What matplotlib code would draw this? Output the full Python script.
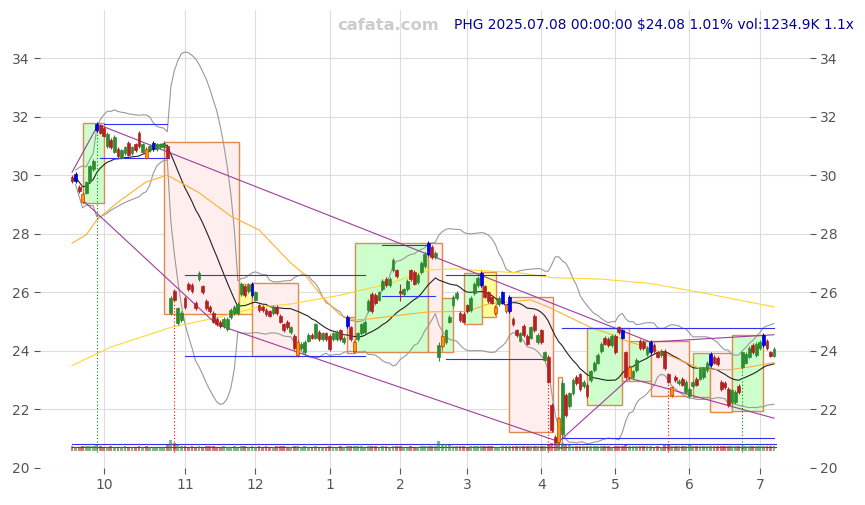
import numpy as np
import pandas as pd
import matplotlib
matplotlib.use("Agg")
import matplotlib.pyplot as plt
from matplotlib.patches import Rectangle

# trading calendar (NYSE holidays in the window)
HOLIDAYS = ["2024-11-28", "2024-12-25", "2025-01-01", "2025-01-09", "2025-01-20",
            "2025-02-17", "2025-04-18", "2025-05-26", "2025-06-19", "2025-07-04"]
dates = pd.bdate_range("2024-09-18", "2025-07-08", freq="C", holidays=HOLIDAYS)

# daily open / close
opens = [
    29.95, 29.80, 29.60, 29.35, 29.40, 29.80, 30.20, 31.55, 31.70, 31.60,
    31.00, 31.20, 30.80, 30.90, 30.60, 30.75, 31.10, 30.75, 31.05, 31.45,
    30.80, 30.90, 30.85, 30.90, 30.90, 30.95, 30.95, 31.00, 25.30, 26.05,
    24.95, 25.05, 25.80, 26.30, 26.25, 25.65, 26.45, 26.20, 25.70, 25.50,
    25.30, 25.10, 25.00, 24.85, 24.75, 25.15, 25.30, 25.30, 25.95, 26.20,
    26.05, 25.90, 25.75, 25.55, 25.50, 25.40, 25.35, 25.30, 25.50, 25.20,
    24.90, 25.00, 24.65, 24.50, 23.85, 24.10, 23.95, 24.35, 24.55, 24.45,
    24.65, 24.40, 24.60, 24.50, 24.40, 24.40, 24.70, 24.30, 24.85, 24.80,
    24.00, 24.40, 24.60, 24.65, 25.40, 25.95, 25.90, 25.75, 26.10, 26.45,
    26.25, 26.75, 26.75, 26.05, 25.95, 26.10, 26.75, 26.70, 26.35, 26.70,
    26.90, 27.30, 27.55, 27.20, 23.80, 24.15, 24.30, 25.00, 25.55, 25.80,
    25.30, 25.25, 25.55, 25.40, 25.97, 26.25, 26.25, 26.20, 26.00, 25.85,
    25.30, 25.60, 25.65, 25.55, 25.35, 25.10, 24.70, 24.35, 24.85, 24.50,
    24.45, 25.20, 24.30, 24.70, 23.70, 23.80, 22.15, 21.05, 20.90, 21.15,
    22.50, 22.10, 22.55, 23.10, 23.20, 22.80, 22.85, 23.00, 23.35, 23.60,
    24.00, 24.45, 24.40, 24.20, 24.50, 24.80, 24.70, 23.95, 23.10, 23.10,
    23.35, 24.35, 24.30, 23.90, 23.95, 24.20, 23.95, 23.85, 24.00, 23.20,
    22.50, 23.10, 22.90, 23.05, 22.60, 22.45, 22.80, 23.05, 23.05, 23.10,
    23.35, 23.50, 23.80, 23.75, 22.95, 22.90, 22.70, 22.25, 22.25, 22.80,
    23.45, 23.60, 23.80, 24.20, 23.85, 24.10, 24.20, 24.35, 23.95, 23.84,
]
closes = [
    29.80, 30.05, 29.45, 29.10, 29.75, 30.30, 30.50, 31.75, 31.45, 31.35,
    31.40, 30.95, 31.30, 30.65, 30.85, 30.95, 30.70, 30.95, 30.85, 31.00,
    31.05, 30.60, 31.00, 31.10, 31.05, 31.05, 31.10, 30.60, 25.80, 25.75,
    25.45, 25.30, 25.50, 26.10, 26.05, 25.45, 26.65, 26.00, 25.45, 25.35,
    25.00, 24.90, 24.85, 25.10, 25.10, 25.40, 25.50, 25.60, 26.30, 25.90,
    26.25, 26.30, 26.00, 25.40, 25.40, 25.25, 25.20, 25.50, 25.30, 25.00,
    24.70, 24.80, 24.80, 24.10, 24.30, 24.25, 24.30, 24.55, 24.45, 24.90,
    24.40, 24.60, 24.40, 24.05, 24.60, 24.65, 24.40, 24.45, 25.15, 24.40,
    24.30, 24.60, 24.90, 25.00, 25.70, 25.35, 25.65, 26.00, 26.40, 26.25,
    26.45, 27.10, 26.55, 25.97, 26.10, 26.40, 26.45, 26.30, 26.60, 27.00,
    27.30, 27.70, 27.20, 27.35, 24.20, 24.50, 24.70, 25.15, 25.85, 25.97,
    25.05, 25.00, 25.35, 25.80, 26.30, 26.50, 26.65, 25.85, 25.70, 25.65,
    25.50, 25.80, 26.00, 25.35, 25.85, 24.90, 24.55, 24.60, 24.55, 24.25,
    24.80, 24.70, 24.55, 24.30, 23.95, 22.95, 21.30, 20.90, 21.70, 22.90,
    21.80, 22.55, 23.00, 22.90, 22.70, 22.95, 22.45, 23.30, 23.60, 23.85,
    24.25, 24.25, 24.20, 24.50, 23.95, 24.65, 24.45, 23.10, 23.45, 23.30,
    23.70, 24.10, 24.10, 24.10, 24.30, 24.00, 23.80, 24.00, 23.40, 22.95,
    22.75, 23.00, 22.98, 22.85, 22.95, 22.70, 22.95, 22.85, 23.40, 23.40,
    23.60, 23.90, 23.60, 23.55, 22.70, 22.75, 22.15, 22.65, 22.60, 22.60,
    23.95, 23.90, 24.10, 23.95, 24.25, 24.30, 24.55, 24.10, 23.84, 24.08,
]
# volume in thousands
volume = [
    1150, 1020, 980, 1210, 1090, 1130, 1060, 1480, 1250, 1010,
    930, 1080, 990, 1040, 910, 1120, 1000, 960, 1050, 1170,
    940, 1090, 880, 1010, 970, 920, 1030, 1350, 2650, 1900,
    1450, 1220, 1100, 1050, 1180, 990, 1090, 1010, 1150, 1080,
    1200, 1040, 980, 1110, 1020, 950, 1060, 1000, 1130, 1070,
    990, 1120, 1040, 1180, 1010, 1090, 960, 1030, 1100, 1140,
    1060, 980, 1020, 1210, 1150, 900, 1070, 1010, 940, 1090,
    1030, 960, 1000, 1120, 980, 1050, 1080, 970, 1190, 1100,
    1240, 1060, 1110, 1020, 1250, 1180, 1090, 1040, 1130, 1070,
    1000, 1160, 1080, 1120, 960, 1030, 1100, 1040, 990, 1090,
    1120, 1260, 1150, 1060, 2300, 1700, 1600, 1450, 1250, 1160,
    1210, 1100, 1020, 1090, 1140, 1060, 1190, 1230, 1120, 1080,
    1040, 1010, 1130, 1090, 1170, 1220, 1140, 1080, 1130, 1190,
    1060, 1150, 1090, 1200, 1250, 1700, 1950, 2200, 1900, 1800,
    1500, 1350, 1280, 1200, 1240, 1150, 1210, 1120, 1180, 1090,
    1130, 1060, 1100, 1040, 1190, 1120, 1230, 1350, 1250, 1160,
    1110, 1180, 1090, 1060, 1140, 1020, 1080, 1010, 1300, 1450,
    1200, 1120, 1070, 1100, 1240, 1300, 1260, 1180, 1230, 1290,
    1220, 1270, 1150, 1090, 1210, 1130, 1190, 1160, 1250, 1120,
    1080, 1140, 1100, 1060, 1150, 1090, 1170, 1130, 1110, 1235,
]
blue_days = [1, 7, 23, 51, 78, 101, 116, 122, 124, 156, 164, 181, 196]
orange_days = [3, 21, 64, 80, 105, 120, 123, 138, 158, 170]
long_wicks = {93: (25.70, 26.30), 104: (23.65, 24.30), 139: (21.10, 23.00),
              135: (22.90, 23.85), 138: (20.80, 21.75), 168: (23.35, 24.05)}

# longer moving averages (day index, price)
orange_idx = [0, 4, 7, 13, 21, 27, 36, 45, 53, 62, 66, 71, 76, 80, 85, 93, 101,
              112, 118, 130, 135, 141, 147, 152, 158, 164, 172, 178, 186, 192, 199]
orange_val = [27.68, 27.96, 28.47, 29.08, 29.77, 30.00, 29.40, 28.60, 28.13, 27.00,
              26.60, 25.84, 25.22, 25.05, 25.10, 25.22, 25.33, 25.35, 25.60, 25.74,
              25.50, 25.15, 24.80, 24.60, 24.30, 24.10, 23.70, 23.40, 23.35, 23.45, 23.60]
yellow_idx = [0, 11, 28, 42, 53, 62, 76, 90, 101, 108, 127, 136, 150, 164, 178, 199]
yellow_val = [23.50, 24.13, 24.80, 25.16, 25.50, 25.60, 25.90, 26.30, 26.76, 26.80,
              26.66, 26.50, 26.45, 26.30, 26.00, 25.50]

# trend lines: (start idx, start price, end idx, end price)
trend_lines = [
    (0, 30.10, 7.5, 31.75), (8, 31.70, 164, 24.30), (164, 24.30, 199, 24.55),
    (3, 29.15, 41, 24.90), (41, 24.90, 138, 20.90), (138, 20.90, 158, 23.07),
    (158, 23.07, 199, 21.70),
]
# horizontal levels: (start idx, end idx, price)
levels = [
    (9, 27, 31.75), (8, 27.5, 30.58), (32, 83, 26.59), (32, 83, 23.82),
    (88, 101, 27.61), (88, 103, 25.87), (106, 134, 26.59), (106, 134, 23.72),
    (139, 199, 24.78), (139, 199, 21.02), (0, 199.5, 20.82), (0, 199.5, 20.72),
]
# swing boxes: (start idx, end idx, low, high, kind)
boxes = [
    (3, 9, 29.05, 31.78, "up"), (26, 47.2, 25.26, 31.13, "down"),
    (47.2, 50.9, 25.26, 26.28, "flat"), (50.9, 64, 23.82, 26.32, "down"),
    (77.9, 80.2, 23.93, 25.16, "down"), (80.2, 100.9, 23.96, 27.68, "up"),
    (100.9, 104.8, 23.96, 27.68, "down"), (104.8, 107.9, 23.96, 25.80, "up"),
    (111.1, 116.2, 24.92, 26.66, "up"), (116.2, 120.1, 25.16, 26.69, "flat"),
    (123.8, 136.3, 21.23, 25.84, "down"), (137.7, 138.8, 20.68, 23.10, "none"),
    (145.9, 155.8, 22.15, 24.78, "up"), (155.8, 157.8, 22.97, 24.78, "down"),
    (157.8, 164.1, 22.97, 24.34, "up"), (164.1, 174.8, 22.46, 24.34, "down"),
    (176, 180.8, 22.42, 23.93, "up"), (180.8, 187, 21.91, 23.93, "down"),
    (187, 195.8, 21.95, 24.54, "up"),
]
signal_lines = [(7, "green"), (29, "red"), (135, "red"), (169, "red"), (190, "green")]

FILL = {"up": "#ccffcc", "down": "#ffeeee", "flat": "#ffff99", "none": "none"}
GREEN, RED = "#2e8b2e", "#b22222"

n = len(dates)
x = np.arange(n)
o = np.array(opens)
c = np.array(closes)
s = pd.Series(c)
mid = s.rolling(20, min_periods=1).mean()
sd = s.rolling(20, min_periods=2).std(ddof=0)

fig = plt.figure(figsize=(8.65, 5.05), dpi=100)
ax = fig.add_axes([0.0462, 0.0733, 0.8902, 0.9069])

for i0, i1, lo, hi, kind in boxes:
    ax.add_patch(Rectangle((i0, lo), i1 - i0, hi - lo, facecolor=FILL[kind],
                           edgecolor="#e08a4e", lw=1.0, zorder=1))

ax.plot(x, mid + 2 * sd, color="#999999", lw=0.8, zorder=2)
ax.plot(x, mid - 2 * sd, color="#999999", lw=0.8, zorder=2)
ax.plot(x, mid, color="#222222", lw=0.8, zorder=2)
ax.plot(orange_idx, orange_val, color="#ffb030", lw=0.8, zorder=2)
ax.plot(yellow_idx, yellow_val, color="#ffd830", lw=0.8, zorder=2)

for a, pa, b, pb in trend_lines:
    ax.plot([a, b], [pa, pb], color="#a03ca0", lw=0.8, zorder=2)
for a, b, p in levels:
    ax.plot([a, b], [p, p], color="#3030ee", lw=0.8, zorder=2)

# volume strip along the bottom
vol = np.array(volume)
vcol = [GREEN if c[i] >= o[i] else RED for i in range(n)]
ax.bar(x, vol * 1.45e-4, bottom=20.58, width=0.8, color=vcol, alpha=0.6, zorder=2)

for i, col in signal_lines:
    ax.vlines(i, 20.55, min(o[i], c[i]), colors=col, lw=0.8, linestyles=(0, (1, 2)), zorder=2)

# candles
for i in range(n):
    lo_b, hi_b = min(o[i], c[i]), max(o[i], c[i])
    lo_w, hi_w = long_wicks.get(i, (lo_b - 0.06, hi_b + 0.06))
    if i in blue_days:
        fc, ec = "#0000ff", "#0000aa"
    elif i in orange_days:
        fc, ec = "#ff9900", "#dd3300"
    else:
        fc = GREEN if c[i] >= o[i] else RED
        ec = fc
    ax.vlines(i, lo_w, hi_w, colors=ec, lw=0.8, zorder=3)
    ax.bar(i, max(hi_b - lo_b, 0.03), bottom=lo_b, width=0.8, color=fc,
           edgecolor=ec, lw=0.5, zorder=3)

month_pos = [i for i in range(1, n) if dates[i].month != dates[i - 1].month]
ax.set_xticks(month_pos)
ax.set_xticklabels([str(dates[i].month) for i in month_pos])
ax.set_yticks(range(20, 35, 2))
ax.set_xlim(-9.1, 209.2)
ax.set_ylim(20, 35.64)
ax.grid(color="#dddddd", lw=0.8, zorder=0)
ax.set_axisbelow(True)
for sp in ax.spines.values():
    sp.set_visible(False)
ax.tick_params(axis="both", colors="#555555", labelsize=10, length=4)
ax.tick_params(axis="y", left=True, right=True, labelleft=True, labelright=True)

fig.text(0.4486, 0.950, "cafata.com", color="#cccccc", fontsize=11.8,
         fontweight="bold", ha="center", va="center")
fig.text(0.525, 0.950, "PHG 2025.07.08 00:00:00 $24.08 1.01% vol:1234.9K 1.1x",
         color="#000099", fontsize=9.9, ha="left", va="center")

fig.savefig("out.png", dpi=100)
